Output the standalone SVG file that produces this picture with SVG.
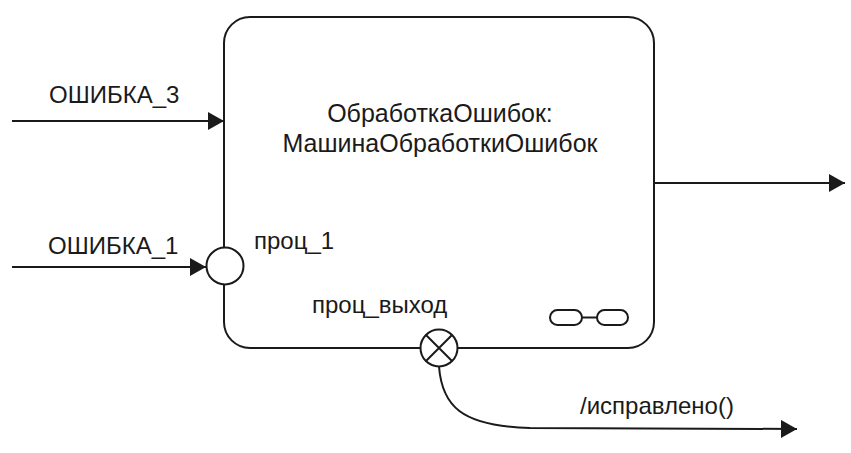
<svg xmlns="http://www.w3.org/2000/svg" width="851" height="453" viewBox="0 0 851 453">
<style>
.t{font-family:"Liberation Sans",Arial,sans-serif;fill:#1a1a1a;font-size:24px}
.ln{fill:none;stroke:#1a1a1a;stroke-width:2}
</style>
<defs>
<marker id="ah" viewBox="0 0 16 18" refX="16" refY="9" markerWidth="16" markerHeight="18" markerUnits="userSpaceOnUse" orient="auto">
<path d="M0,0 L16,9 L0,18 Z" fill="#1a1a1a"/>
</marker>
</defs>
<rect width="851" height="453" fill="#fff"/>
<g id="machine">
<rect x="224" y="17" width="430" height="331" rx="26" ry="26" class="ln"/>
<text class="t" x="440" y="122" style="font-size:25px" text-anchor="middle">ОбработкаОшибок:</text>
<text class="t" x="440" y="152" style="font-size:25px" text-anchor="middle">МашинаОбработкиОшибок</text>
<g id="link-icon">
<rect x="550" y="310" width="32" height="15" rx="7.5" class="ln" stroke-width="2.5"/>
<rect x="597" y="310" width="31" height="15" rx="7.5" class="ln" stroke-width="2.5"/>
<line x1="582" y1="317.5" x2="597" y2="317.5" class="ln"/>
</g>
</g>
<g id="port-entry">
<circle cx="225" cy="266" r="18.5" fill="#fff" stroke="#1a1a1a" stroke-width="2"/>
<text class="t" x="254" y="249">проц_1</text>
</g>
<g id="port-exit">
<circle cx="439" cy="348" r="18.5" fill="#fff" stroke="#1a1a1a" stroke-width="2"/>
<path d="M426,335 L452,361 M452,335 L426,361" class="ln"/>
<text class="t" x="312" y="313">проц_выход</text>
</g>
<g id="connectors">
<line x1="12" y1="121" x2="224" y2="121" class="ln" marker-end="url(#ah)"/>
<text class="t" x="49" y="103">ОШИБКА_3</text>
<line x1="12" y1="267" x2="206" y2="267" class="ln" marker-end="url(#ah)"/>
<text class="t" x="48" y="254">ОШИБКА_1</text>
<line x1="654" y1="183" x2="845" y2="183" class="ln" marker-end="url(#ah)"/>
<path d="M439,366.5 C442,405 460,426 530,428 L797,429" class="ln" marker-end="url(#ah)"/>
<text class="t" x="580" y="414">/исправлено()</text>
</g>
</svg>
